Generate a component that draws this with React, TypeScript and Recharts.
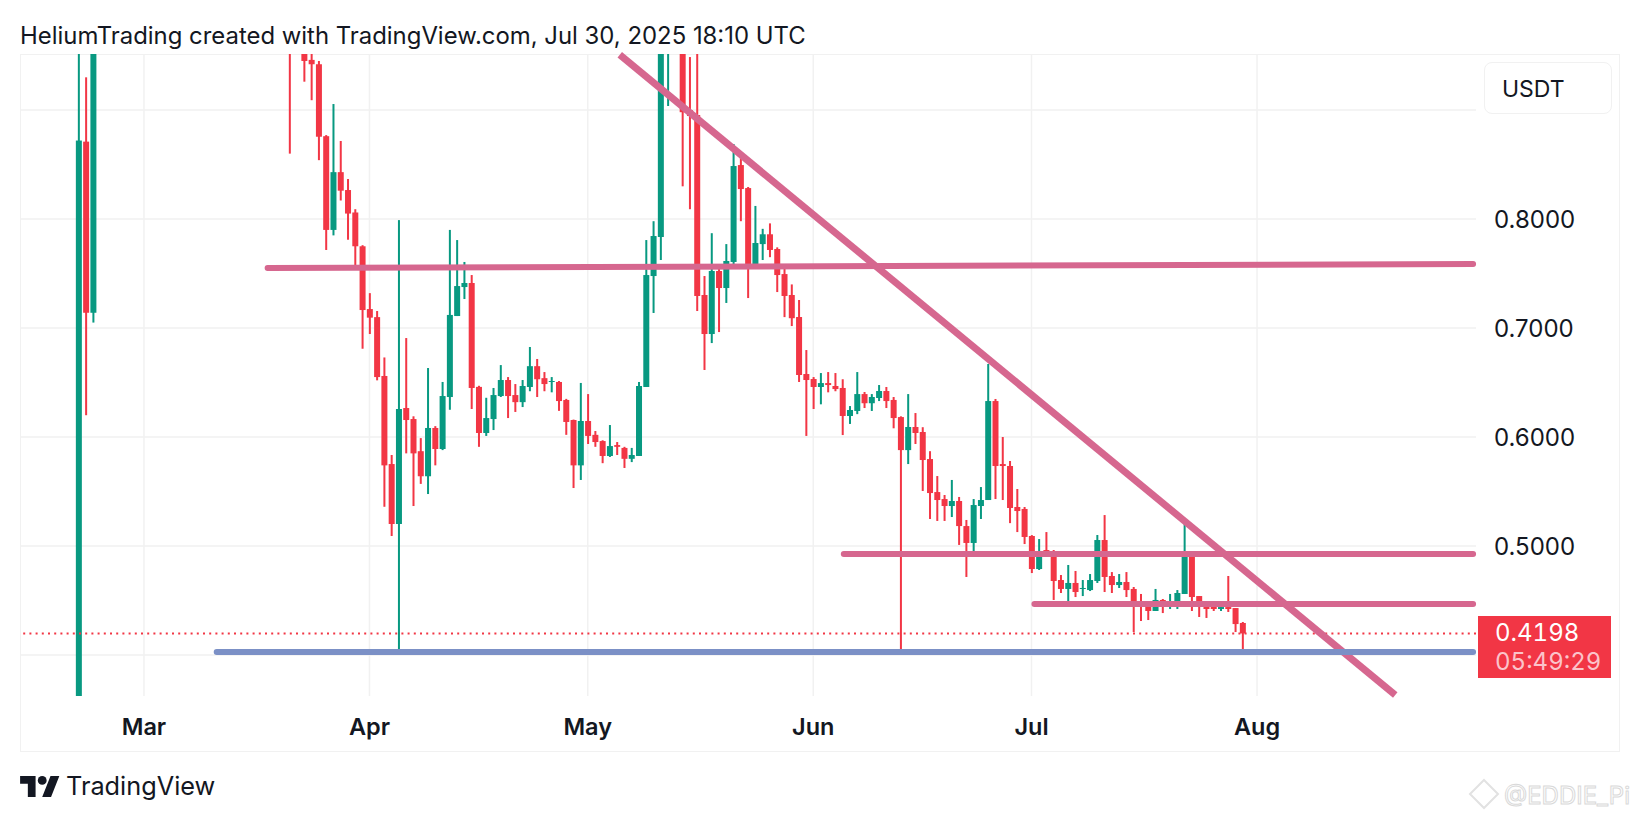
import { ComposedChart, Bar, XAxis, YAxis, CartesianGrid, ReferenceLine } from "recharts";

// day offsets from Mar 1, only the candles that show on the chart
const days = [
  -9, -8, -7, 20, 22, 23, 24, 25, 26, 27, 28, 29, 30, 31, 32, 33, 34, 35, 36, 37,
  38, 39, 40, 41, 42, 43, 44, 45, 46, 47, 48, 49, 50, 51, 52, 53, 54, 55, 56, 57,
  58, 59, 60, 61, 62, 63, 64, 65, 66, 67, 68, 69, 70, 71, 72, 74, 75, 76, 77, 78,
  79, 80, 81, 82, 83, 84, 85, 86, 87, 88, 89, 90, 91, 92, 93, 94, 95, 96, 97, 98,
  99, 100, 101, 102, 103, 104, 105, 106, 107, 108, 109, 110, 111, 112, 113, 114, 115, 116, 117, 118,
  119, 120, 121, 122, 123, 124, 125, 126, 127, 128, 129, 130, 131, 132, 133, 134, 135, 136, 137, 138,
  139, 140, 141, 142, 143, 144, 145, 146, 147, 148, 149, 150, 151,
];
const opens = [
  0.3, 0.871, 0.714, 1.1, 0.97, 0.946, 0.942, 0.876, 0.79, 0.843, 0.8266, 0.806, 0.775, 0.7174, 0.71, 0.656, 0.5752, 0.5202, 0.6266, 0.6165,
  0.587, 0.564, 0.6083, 0.589, 0.6367, 0.711, 0.7376, 0.7413, 0.646, 0.6037, 0.6165, 0.6376, 0.6523, 0.6385, 0.632, 0.6459, 0.665, 0.654, 0.6505, 0.6505,
  0.634, 0.6156, 0.574, 0.6147, 0.602, 0.5963, 0.5826, 0.5926, 0.59, 0.58, 0.5826, 0.6459, 0.7477, 0.7835, 0.98, 1.0, 0.9, 0.8954, 0.7303, 0.6945,
  0.7523, 0.7367, 0.7606, 0.8495, 0.8284, 0.755, 0.777, 0.786, 0.7725, 0.7495, 0.7303, 0.7101, 0.6578, 0.6532, 0.6459, 0.6495, 0.6468, 0.645, 0.6193, 0.6239,
  0.6394, 0.631, 0.6358, 0.6422, 0.634, 0.6183, 0.588, 0.6092, 0.6046, 0.5798, 0.5495, 0.5431, 0.5367, 0.5413, 0.5183, 0.5028, 0.5367, 0.5422, 0.633, 0.5752,
  0.5734, 0.5358, 0.534, 0.5092, 0.4789, 0.4963, 0.4954, 0.4688, 0.4606, 0.4661, 0.4606, 0.4596, 0.4679, 0.5055, 0.4725, 0.4642, 0.467, 0.4606, 0.4477, 0.4459,
  0.4404, 0.4505, 0.445, 0.4459, 0.456, 0.4908, 0.4541, 0.4459, 0.445, 0.4422, 0.444, 0.4431, 0.4294,
];
const highs = [
  1.05, 0.93, 1.08, 1.2, 1.0, 0.96, 0.945, 0.877, 0.9055, 0.8716, 0.8367, 0.809, 0.776, 0.732, 0.7156, 0.673, 0.5835, 0.799, 0.6908, 0.619,
  0.599, 0.6633, 0.61, 0.6505, 0.79, 0.7807, 0.7606, 0.7486, 0.647, 0.636, 0.645, 0.666, 0.655, 0.6486, 0.6523, 0.6826, 0.6716, 0.6596, 0.655, 0.6514,
  0.635, 0.616, 0.6496, 0.6394, 0.6055, 0.597, 0.611, 0.5954, 0.591, 0.59, 0.6505, 0.7807, 0.798, 1.0, 1.1, 1.05, 0.9486, 1.0, 0.7477, 0.787,
  0.7541, 0.777, 0.8688, 0.856, 0.8294, 0.812, 0.791, 0.796, 0.774, 0.758, 0.74, 0.7257, 0.6798, 0.655, 0.6587, 0.6596, 0.6587, 0.653, 0.6284, 0.6596,
  0.6413, 0.6394, 0.6477, 0.6459, 0.6367, 0.619, 0.6394, 0.622, 0.609, 0.587, 0.5642, 0.5468, 0.5606, 0.545, 0.5239, 0.5431, 0.5541, 0.667, 0.6349, 0.6,
  0.578, 0.5523, 0.5358, 0.51, 0.5064, 0.5128, 0.4963, 0.4734, 0.4826, 0.4771, 0.4688, 0.4743, 0.5101, 0.5284, 0.4761, 0.4743, 0.4761, 0.4624, 0.456, 0.4495,
  0.4606, 0.4514, 0.456, 0.4596, 0.522, 0.4917, 0.4541, 0.4477, 0.4468, 0.445, 0.4725, 0.4431, 0.4303,
];
const lows = [
  0.28, 0.62, 0.705, 0.86, 0.926, 0.909, 0.854, 0.7716, 0.785, 0.817, 0.781, 0.757, 0.681, 0.6945, 0.652, 0.536, 0.5092, 0.4028, 0.585, 0.5367,
  0.557, 0.5477, 0.574, 0.588, 0.625, 0.711, 0.7266, 0.6257, 0.591, 0.601, 0.6064, 0.6367, 0.6174, 0.623, 0.6275, 0.642, 0.6367, 0.642, 0.641, 0.624,
  0.602, 0.5532, 0.5606, 0.5936, 0.591, 0.576, 0.5817, 0.5835, 0.5716, 0.577, 0.5826, 0.6459, 0.7138, 0.7624, 0.9037, 0.83, 0.809, 0.7156, 0.6615, 0.6862,
  0.6963, 0.723, 0.7569, 0.798, 0.7275, 0.755, 0.7624, 0.765, 0.733, 0.71, 0.7018, 0.6505, 0.601, 0.6257, 0.63, 0.641, 0.642, 0.6018, 0.612, 0.621,
  0.6266, 0.6239, 0.633, 0.6266, 0.608, 0.401, 0.5752, 0.5936, 0.5505, 0.5248, 0.523, 0.523, 0.5266, 0.501, 0.4716, 0.4936, 0.5248, 0.5422, 0.5431, 0.5422,
  0.521, 0.5128, 0.5018, 0.4752, 0.478, 0.4908, 0.4505, 0.4569, 0.4459, 0.4532, 0.4541, 0.4587, 0.4661, 0.4578, 0.4569, 0.4615, 0.4532, 0.4211, 0.4312, 0.4321,
  0.4404, 0.4385, 0.4422, 0.4422, 0.456, 0.4404, 0.4349, 0.434, 0.4404, 0.4404, 0.4395, 0.4211, 0.4046,
];
const closes = [
  0.872, 0.714, 1.02, 1.0, 0.945, 0.942, 0.8755, 0.79, 0.843, 0.826, 0.805, 0.775, 0.7165, 0.7095, 0.655, 0.574, 0.5202, 0.6257, 0.6156, 0.585,
  0.564, 0.6083, 0.589, 0.6376, 0.712, 0.7385, 0.7413, 0.645, 0.6037, 0.6174, 0.6385, 0.6523, 0.6376, 0.632, 0.6468, 0.665, 0.653, 0.6486, 0.6514, 0.633,
  0.6138, 0.574, 0.6147, 0.601, 0.5954, 0.5826, 0.5917, 0.591, 0.58, 0.5835, 0.6468, 0.7486, 0.7844, 0.98, 1.05, 0.898, 0.8945, 0.7294, 0.6945, 0.7523,
  0.7367, 0.7615, 0.8486, 0.8275, 0.755, 0.778, 0.786, 0.7716, 0.7486, 0.7294, 0.709, 0.6569, 0.6523, 0.6459, 0.6495, 0.6477, 0.644, 0.6193, 0.6248, 0.6394,
  0.631, 0.6367, 0.6422, 0.633, 0.6174, 0.588, 0.6092, 0.6037, 0.5789, 0.5486, 0.5422, 0.5367, 0.5413, 0.5183, 0.5028, 0.5376, 0.5422, 0.633, 0.5734, 0.5734,
  0.5349, 0.5321, 0.5083, 0.4789, 0.4954, 0.4917, 0.4679, 0.4606, 0.4661, 0.4578, 0.4615, 0.4688, 0.5055, 0.4716, 0.4642, 0.467, 0.4596, 0.4459, 0.4459, 0.4404,
  0.4505, 0.445, 0.4468, 0.4569, 0.4908, 0.4532, 0.445, 0.4422, 0.4422, 0.444, 0.4422, 0.4284, 0.4198,
];

const gridPrices = [0.4, 0.5, 0.6, 0.7, 0.8, 0.9];
const priceTicks = [0.5, 0.6, 0.7, 0.8];
const monthTicks = [0, 31, 61, 92, 122, 153];
const monthNames = ["Mar", "Apr", "May", "Jun", "Jul", "Aug"];
const lastPrice = 0.4198;

// hand drawn lines, [day, price]
const resistanceTop = [[17, 0.755], [182.7, 0.7587]];
const downTrend = [[65.4, 0.9507], [172, 0.3633]];
const levelMid = [[96.2, 0.4927], [182.7, 0.4927]];
const levelLow = [[122.4, 0.4468], [182.7, 0.4468]];
const supportLine = [[10, 0.4028], [182.7, 0.4028]];

const GREEN = "#089981";
const RED = "#f23645";
const PINK = "#d6678f";
const BLUE = "#7b90c6";
const GRID = "#f1f1f1";
const FONT = "Inter, sans-serif";

const candles = days.map((day, i) => ({
  day,
  open: opens[i],
  high: highs[i],
  low: lows[i],
  close: closes[i],
  range: [lows[i], highs[i]],
}));

const Candle = (props: any) => {
  const { x, y, width, height, payload } = props;
  const { open, high, low, close } = payload;
  const perUnit = height / (high - low);
  const top = y + (high - Math.max(open, close)) * perUnit;
  const bottom = y + (high - Math.min(open, close)) * perUnit;
  const color = close >= open ? GREEN : RED;
  const cx = x + width / 2;
  return (
    <g>
      <rect x={cx - 1} y={y} width={2} height={height} fill={color} />
      <rect x={cx - 3} y={top} width={6} height={Math.max(bottom - top, 1)} fill={color} />
    </g>
  );
};

const segment = (line: number[][]) => line.map(([x, y]) => ({ x, y }));

const App = () => {
  return (
    <div style={{ position: "absolute", left: 0, top: 0, width: 1640, height: 822, background: "#fff", fontFamily: FONT, overflow: "hidden" }}>
      <div style={{ position: "absolute", left: 20, top: 21, fontSize: 23.9, color: "#131722", whiteSpace: "nowrap" }}>
        HeliumTrading created with TradingView.com, Jul 30, 2025 18:10 UTC
      </div>
      <div style={{ position: "absolute", left: 20, top: 54, width: 1600, height: 698, border: `1px solid ${GRID}`, boxSizing: "border-box" }} />

      <div style={{ position: "absolute", left: 0, top: 0 }}>
        <ComposedChart width={1640} height={822} data={candles} margin={{ top: 54, right: 20, bottom: 70, left: 20 }}>
          <CartesianGrid stroke={GRID} strokeWidth={1.5} horizontalValues={gridPrices} verticalValues={monthTicks} />
          <XAxis
            dataKey="day"
            type="number"
            domain={[-17.04, 183.1]}
            allowDataOverflow
            ticks={monthTicks}
            interval={0}
            height={56}
            tickFormatter={(v: number) => monthNames[monthTicks.indexOf(v)]}
            axisLine={false}
            tickLine={false}
            tickSize={0}
            tickMargin={22}
            tick={{ fill: "#131722", fontSize: 23.5, fontWeight: 600, fontFamily: FONT }}
          />
          <YAxis
            orientation="right"
            domain={[0.3624, 0.9514]}
            allowDataOverflow
            ticks={priceTicks}
            interval={0}
            width={144}
            tickFormatter={(v: number) => v.toFixed(4)}
            axisLine={false}
            tickLine={false}
            tickSize={0}
            tickMargin={18}
            tick={{ fill: "#131722", fontSize: 24, fontFamily: FONT }}
          />
          <ReferenceLine y={lastPrice} stroke={RED} strokeWidth={2} strokeDasharray="2 4.2" />
          <ReferenceLine segment={segment(resistanceTop)} stroke={PINK} strokeWidth={6} strokeLinecap="round" />
          <ReferenceLine segment={segment(downTrend)} stroke={PINK} strokeWidth={7} />
          <ReferenceLine segment={segment(levelMid)} stroke={PINK} strokeWidth={6} strokeLinecap="round" />
          <ReferenceLine segment={segment(levelLow)} stroke={PINK} strokeWidth={6} strokeLinecap="round" />
          <ReferenceLine segment={segment(supportLine)} stroke={BLUE} strokeWidth={6} strokeLinecap="round" />
          <Bar dataKey="range" barSize={6} shape={Candle} isAnimationActive={false} />
        </ComposedChart>
      </div>

      <div style={{ position: "absolute", left: 1484, top: 62, width: 128, height: 52, background: "#fff", border: `1px solid ${GRID}`, borderRadius: 8, boxSizing: "border-box", fontSize: 23, color: "#131722", lineHeight: "52px", paddingLeft: 17 }}>
        USDT
      </div>

      <div style={{ position: "absolute", left: 1478, top: 616, width: 133, height: 62, background: RED, color: "#fff", fontSize: 24, paddingLeft: 17, boxSizing: "border-box", fontVariantNumeric: "tabular-nums" }}>
        <div style={{ lineHeight: "29px", marginTop: 2 }}>{lastPrice.toFixed(4)}</div>
        <div style={{ lineHeight: "29px", color: "#fbc3ca" }}>05:49:29</div>
      </div>

      <svg style={{ position: "absolute", left: 20, top: 776 }} width={40} height={21} viewBox="0 0 36 19">
        <path d="M14 19H7V7H0V0h14v19zM28 19h-8l7.5-19h8L28 19z" fill="#131722" />
        <circle cx={20} cy={4} r={4} fill="#131722" />
      </svg>
      <div style={{ position: "absolute", left: 66, top: 770, fontSize: 25.3, color: "#131722", whiteSpace: "nowrap" }}>TradingView</div>

      <svg style={{ position: "absolute", left: 1468, top: 778 }} width={172} height={36}>
        <path d="M16 2 L30 16 L16 30 L2 16 Z" fill="none" stroke="#e2e2e2" strokeWidth={2} />
        <text x={36} y={26} fontSize={24} fontFamily={FONT} fill="none" stroke="#d9d9d9" strokeWidth={1}>@EDDIE_Pi</text>
      </svg>
    </div>
  );
};

export default App;
